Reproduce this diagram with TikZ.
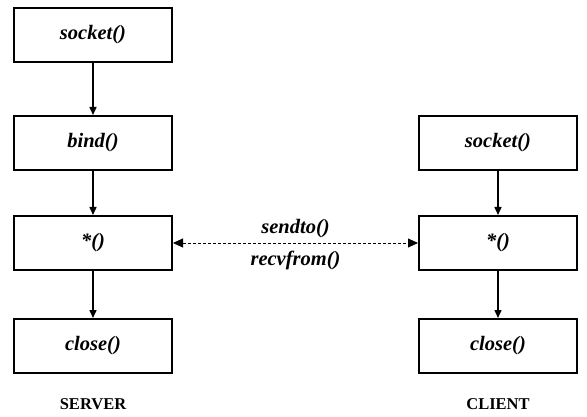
\documentclass[tikz,border=0pt]{standalone}
\usepackage{fontspec}
\setmainfont{Liberation Serif}
\usetikzlibrary{arrows.meta}
\begin{document}
\begin{tikzpicture}[x=1pt,y=-1pt,
  callfont/.style={font=\fontsize{20.5}{24}\selectfont\bfseries\itshape},
  callbox/.style={draw,line width=2pt,minimum width=158pt,minimum height=54pt,
    inner sep=0pt,callfont},
  flow/.style={line width=1.5pt,-{Triangle[length=8pt,width=7pt]}},
  msg/.style={line width=0.8pt,dash pattern=on 3pt off 2pt,
    {Triangle[length=10pt,width=9pt]}-{Triangle[length=10pt,width=9pt]}},
  side/.style={font=\fontsize{16.5}{19}\selectfont\bfseries}]
\useasboundingbox (0,0) rectangle (587,417);
% server column
\node[callbox] (ssock) at (93,35) {socket()};
\node[callbox] (sbind) at (93,143) {bind()};
\node[callbox] (sio) at (93,243) {*()};
\node[callbox] (sclose) at (93,346) {close()};
% client column
\node[callbox] (csock) at (498,143) {socket()};
\node[callbox] (cio) at (498,243) {*()};
\node[callbox] (cclose) at (498,346) {close()};
% call order
\draw[flow] (ssock) -- (sbind);
\draw[flow] (sbind) -- (sio);
\draw[flow] (sio) -- (sclose);
\draw[flow] (csock) -- (cio);
\draw[flow] (cio) -- (cclose);
% datagram exchange
\draw[msg] (sio) -- node[above=1pt,callfont] (snd) {sendto()}
  node[below=4pt,callfont] (rcv) {recvfrom()} (cio);
% side labels
\node[side] (srv) at (93,404) {SERVER};
\node[side] (cli) at (498,404) {CLIENT};
\end{tikzpicture}
\end{document}
